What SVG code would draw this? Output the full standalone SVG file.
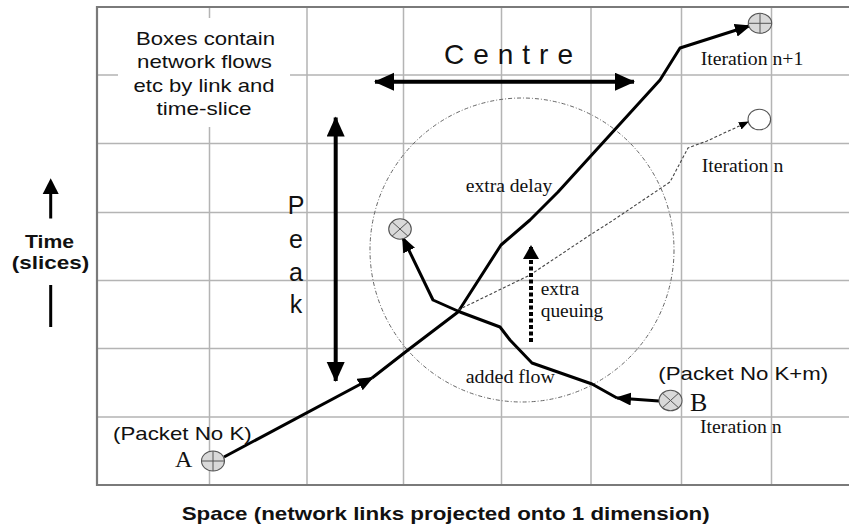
<svg xmlns="http://www.w3.org/2000/svg" width="849" height="528" viewBox="0 0 849 528">
<style>
.grid{stroke:#b4b4b4;stroke-width:1.5;fill:none}
.frame{stroke:#7a7a7a;stroke-width:2.2;fill:none}
.sans{font-family:"Liberation Sans",Arial,sans-serif;fill:#111}
.bold{font-family:"Liberation Sans",Arial,sans-serif;font-weight:bold;fill:#111}
.serif{font-family:"Liberation Serif","Times New Roman",serif;fill:#111}
.thick{stroke:#000;stroke-width:3;fill:none;stroke-linejoin:round}
.dash{stroke:#444;stroke-width:1.1;fill:none;stroke-dasharray:3 2}
.ring{stroke:#666;stroke-width:1;fill:none;stroke-dasharray:4 2 1 2}
.node{fill:#d9d9d9;stroke:#555;stroke-width:1.1}
.mark{stroke:#555;stroke-width:1}
</style>
<defs>
<marker id="big" markerUnits="userSpaceOnUse" markerWidth="22" markerHeight="20" refX="19" refY="9" orient="auto-start-reverse"><path d="M0,0 L20,9 L0,18 z" fill="#000"/></marker>
<marker id="ah" markerUnits="userSpaceOnUse" markerWidth="18" markerHeight="14" refX="14" refY="6.5" orient="auto"><path d="M0,0 L16,6.5 L0,13 z" fill="#000"/></marker>
<marker id="sm" markerUnits="userSpaceOnUse" markerWidth="12" markerHeight="10" refX="9" refY="4" orient="auto"><path d="M0,0 L10,4 L0,8 z" fill="#000"/></marker>
<marker id="dot" markerUnits="userSpaceOnUse" markerWidth="18" markerHeight="18" refX="13" refY="8" orient="auto"><path d="M0,0 L14,8 L0,16 z" fill="#000"/></marker>
</defs>
<rect width="849" height="528" fill="#fff"/>
<g id="grid">
<path class="grid" d="M209.5,7V485M307,7V485M403.5,7V485M501.5,7V485M591,7V485M681.5,7V485M771.5,7V485"/>
<path class="grid" d="M97,75H849M97,143.5H849M97,212.5H849M97,280.5H849M97,348.5H849M97,417H849"/>
<path class="frame" d="M849,7H97V485H849"/>
</g>
<g id="note">
<rect x="118" y="18" width="172" height="109" fill="#fff"/>
<g class="sans" font-size="18.5" text-anchor="middle">
<text x="205.5" y="45" textLength="139" lengthAdjust="spacingAndGlyphs">Boxes contain</text>
<text x="204.5" y="68.3" textLength="135" lengthAdjust="spacingAndGlyphs">network flows</text>
<text x="204" y="91.7" textLength="141" lengthAdjust="spacingAndGlyphs">etc by link and</text>
<text x="204" y="115" textLength="95" lengthAdjust="spacingAndGlyphs">time-slice</text>
</g>
</g>
<g id="axis-labels">
<path d="M50.7,218.5V190" stroke="#000" stroke-width="3"/>
<path d="M42.7,194 L50.7,178.3 L58.7,194 z" fill="#000"/>
<path d="M50.7,285V327" stroke="#000" stroke-width="3"/>
<text class="bold" x="49.5" y="247.5" font-size="18" text-anchor="middle" textLength="49" lengthAdjust="spacingAndGlyphs">Time</text>
<text class="bold" x="50.5" y="268.5" font-size="18" text-anchor="middle" textLength="77.6" lengthAdjust="spacingAndGlyphs">(slices)</text>
<text class="bold" x="181.7" y="520" font-size="19" textLength="528" lengthAdjust="spacingAndGlyphs">Space (network links projected onto 1 dimension)</text>
</g>
<g id="centre">
<path d="M375,81.7H634" stroke="#000" stroke-width="4" marker-start="url(#big)" marker-end="url(#big)"/>
<text class="sans" x="444" y="64" font-size="28" textLength="129">Centre</text>
</g>
<g id="peak">
<path d="M335.7,117.5V381" stroke="#000" stroke-width="4" marker-start="url(#big)" marker-end="url(#big)"/>
<g class="sans" font-size="25" text-anchor="middle">
<text x="296" y="214">P</text>
<text x="296" y="248">e</text>
<text x="296" y="281">a</text>
<text x="296" y="313">k</text>
</g>
</g>
<circle id="region" class="ring" cx="522" cy="250" r="152"/>
<g id="connectors">
<path class="thick" d="M224,457 L372,378" marker-end="url(#ah)"/>
<path class="thick" d="M372,378 L408,350 L458,312 L501,245 L530,220 L558,192 L660,80 L680,48 L749,26" marker-end="url(#ah)"/>
<path class="dash" d="M458,310 L530,275 L590,235 L612,221 L670,182 L688,148 L707,141 L748,122" marker-end="url(#sm)"/>
<path class="thick" d="M659,401 L617,398" marker-end="url(#ah)"/>
<path class="thick" d="M617,398 L592,384 L532,363 L510,340 L500,327 L460,312 L433,300 L403,238" marker-end="url(#ah)"/>
<path d="M531,342V246" stroke="#000" stroke-width="4" stroke-dasharray="4 2.5" marker-end="url(#dot)"/>
</g>
<g id="node-A">
<ellipse class="node" cx="213" cy="461" rx="11.5" ry="10"/>
<path class="mark" d="M201.5,461H224.5M213,451V471"/>
<text class="serif" x="175" y="467" font-size="24">A</text>
<text class="sans" x="113" y="440" font-size="18.5" textLength="138.7" lengthAdjust="spacingAndGlyphs">(Packet No K)</text>
</g>
<g id="node-B">
<ellipse class="node" cx="670.5" cy="400.5" rx="11.5" ry="10.3"/>
<path class="mark" d="M662.4,393.2L678.6,407.8M678.6,393.2L662.4,407.8"/>
<text class="serif" x="690" y="410.7" font-size="26">B</text>
<text class="sans" x="658.3" y="380" font-size="18.5" textLength="170" lengthAdjust="spacingAndGlyphs">(Packet No K+m)</text>
<text class="serif" x="700" y="433.3" font-size="19.5" textLength="81.7" lengthAdjust="spacingAndGlyphs">Iteration n</text>
</g>
<g id="node-target">
<ellipse class="node" cx="400" cy="229" rx="11.3" ry="10.2"/>
<path class="mark" d="M392,221.8L408,236.2M408,221.8L392,236.2"/>
</g>
<g id="node-n1">
<ellipse class="node" cx="760" cy="23.3" rx="11.7" ry="10"/>
<path class="mark" d="M748.3,23.3H771.7M760,13.3V33.3"/>
<text class="serif" x="700.7" y="65" font-size="19.5" textLength="102.6" lengthAdjust="spacingAndGlyphs">Iteration n+1</text>
</g>
<g id="node-n">
<ellipse cx="759.3" cy="119.5" rx="11.3" ry="10.3" fill="#fff" stroke="#555" stroke-width="1.1"/>
<text class="serif" x="701.7" y="171.7" font-size="19.5" textLength="81.6" lengthAdjust="spacingAndGlyphs">Iteration n</text>
</g>
<g id="labels" class="serif" font-size="19.5">
<text x="465.7" y="192.3" textLength="86.6" lengthAdjust="spacingAndGlyphs">extra delay</text>
<text x="540.7" y="295" textLength="38.6" lengthAdjust="spacingAndGlyphs">extra</text>
<text x="540.7" y="316.7" textLength="62.6" lengthAdjust="spacingAndGlyphs">queuing</text>
<text x="465.7" y="383.3" textLength="89.3" lengthAdjust="spacingAndGlyphs">added flow</text>
</g>
</svg>
